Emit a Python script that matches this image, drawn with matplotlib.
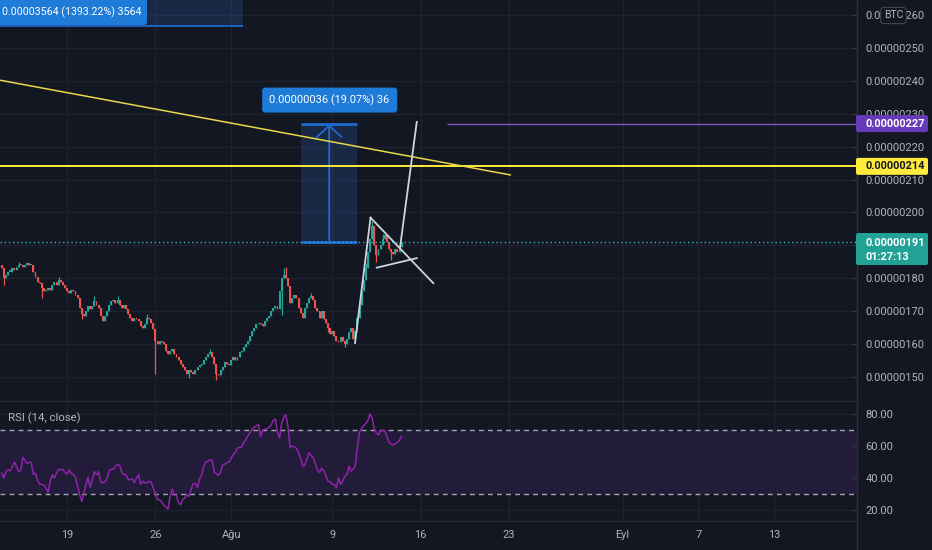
import numpy as np
import pandas as pd
import matplotlib
matplotlib.use("Agg")
import matplotlib.pyplot as plt
from matplotlib.patches import Rectangle, FancyBboxPatch
from matplotlib.lines import Line2D
from matplotlib.transforms import IdentityTransform

plt.rcParams['font.family'] = ['Roboto', 'DejaVu Sans']

W, H = 932, 550
BG = '#131722'
GRID = '#1F2330'
TXT = '#B2B5BE'
UP = '#26A69A'
DOWN = '#EF5350'

# 4h candles, prices in 1e-8 BTC (0.00000191 -> 191)
ref = pd.Timestamp('2021-07-01')
start = pd.Timestamp('2021-07-13 20:00')
first_open = 184.0
closes = [183, 180, 181, 182, 182, 183, 182.5, 183.5, 184, 184, 183.5, 184,
          184.5, 184, 184, 182, 180.5, 179, 178.5, 177, 176, 176.5, 177, 176.5,
          178, 179, 178, 179.5, 179, 178, 177, 176, 175.5, 176.5, 176, 175,
          174, 171, 169, 168.5, 170, 171.5, 170.5, 171.5, 173, 172, 171, 168.5,
          167, 168.5, 170, 172, 173, 173.5, 172.5, 173.5, 172, 171, 172, 170.5,
          169, 168, 167, 168, 167.5, 167, 165.5, 165, 166, 168, 167.5, 166.5,
          164.5, 161, 160, 161, 160.5, 160, 158, 157, 158, 158.5, 157, 156,
          155, 154, 153, 152, 151, 152, 151.5, 151, 152, 153, 153.5, 154,
          155, 156, 157, 157.5, 156, 154, 151, 150.5, 152, 153, 154.5, 154,
          153.5, 155, 156, 155, 156, 157.5, 158, 159, 160, 161, 162.5, 164,
          165, 166, 166.5, 166, 165.5, 167, 168, 168.5, 170, 171, 171.5, 170.5,
          176, 180, 181, 180, 177.5, 172.5, 174, 175, 174, 171, 169.5, 168,
          171, 172.5, 174, 174.5, 173.5, 171, 170, 168, 170, 167.5, 166.5, 165,
          163, 164, 162.5, 161, 160.5, 162, 161, 160, 161.5, 163.5, 165, 161.5,
          164, 168, 172, 176, 179.5, 183, 188, 192, 196, 190, 187, 189,
          190, 192, 193, 191, 189, 188, 187.5, 189, 188, 189.5, 191]
wick_high = {8: 185.0, 27: 180.5, 44: 174.5, 55: 174.5, 69: 169.0, 99: 158.5,
             134: 183.0, 135: 183.5, 147: 175.5, 173: 184.5, 176: 197.5, 181: 193.5}
wick_low = {1: 178.0, 19: 174.0, 38: 167.5, 73: 151.0, 89: 149.8, 102: 149.0,
            133: 168.8, 155: 163.5, 163: 159.0, 178: 185.0, 185: 185.5}

rsi = [43, 40, 44, 45, 44.5, 47, 50, 47, 44, 44.5, 53, 51,
       49, 50, 49.5, 42.2, 43, 38.5, 36, 36, 35.5, 33.5, 31, 38,
       42, 40, 43, 45.5, 45, 45.5, 43.5, 42.5, 45, 43, 42.2, 40.5,
       35, 29.5, 25.4, 30.5, 36, 40.5, 34, 39, 44, 42, 44, 37.5,
       37, 37.5, 39.5, 44.5, 45.4, 45.4, 47.5, 48.3, 48, 43.5, 42.2, 42,
       39, 39, 39.5, 37, 40, 42, 36, 38, 37, 37, 38, 37.5,
       33.5, 30.5, 26.4, 26.4, 25, 23, 21.8, 20.5, 29, 33, 29.5, 29,
       24.5, 23.3, 26.5, 27.5, 29.6, 28.5, 33, 36.5, 36.5, 34, 39.5, 42,
       47.5, 50, 50.5, 51.5, 51, 43.5, 42.5, 41.5, 43.5, 48.5, 48.5, 49.6,
       50, 52.5, 54.5, 56, 58.8, 59, 59.3, 62.2, 64, 66.5, 68.3, 70.6,
       72, 72.5, 73.6, 66, 70, 70.6, 70.6, 71.8, 73, 76, 76.9, 68.5,
       65, 74, 78, 79.5, 72, 59, 60.1, 59.5, 58.5, 56, 52.5, 47.5,
       48, 52, 55.8, 54, 52.7, 49, 45.2, 43.5, 46, 44.5, 41.8, 38,
       37.6, 36, 36, 34, 40, 36, 38, 41.2, 42, 47.4, 44.3, 45.4,
       48, 59.5, 68.5, 71.2, 72.5, 74, 76, 80, 77.5, 70.5, 68.2, 67,
       69.5, 69.6, 69.6, 66, 62.3, 61.1, 60.6, 61.5, 62.2, 63.8, 66]

tick_dates = ['2021-07-19', '2021-07-26', '2021-08-01', '2021-08-09', '2021-08-16',
              '2021-08-23', '2021-09-01', '2021-09-07', '2021-09-13']
tick_labels = ['19', '26', 'Ağu', '9', '16', '23', 'Eyl', '7', '13']
price_ticks = list(range(150, 261, 10))
hidden_ticks = [190]  # covered by the last-price badge
rsi_ticks = [20, 40, 60, 80]

# drawings (x in days since 1 July, y in 1e-8 BTC)
last_price = 191
level_price = 214
target_price = 227
target_from = 48.1
trend_x = [10.0, 53.1]
trend_y = [242.1, 211.4]
measure_x = [36.53, 41.0]
measure_y = [191, 227]
measure_text = '0.00000036 (19.07%) 36'
old_measure_x = [10.0, 31.94]
old_measure_y = [256.7, 270]
old_measure_text = '0.00003564 (1393.22%) 3564'
pennant = [([40.81, 42.04], [160.3, 198.4]),
           ([42.04, 47.01], [198.4, 178.5]),
           ([42.53, 45.70], [183.2, 186.1]),
           ([44.38, 45.70], [189.5, 227.5])]

closes = np.array(closes, dtype=float)
times = pd.date_range(start, periods=len(closes), freq='4h')
x = ((times - ref) / pd.Timedelta('1D')).to_numpy()
opens = np.r_[first_open, closes[:-1]]
highs = np.maximum(opens, closes)
lows = np.minimum(opens, closes)
for k, v in wick_high.items():
    highs[k] = v
for k, v in wick_low.items():
    lows[k] = v
cols = np.where(closes >= opens, UP, DOWN)
body = np.maximum(np.abs(closes - opens), 0.45)
tick_x = [(pd.Timestamp(d) - ref) / pd.Timedelta('1D') for d in tick_dates]

fig = plt.figure(figsize=(W / 100, H / 100), dpi=100, facecolor=BG)
ax = fig.add_axes([0, 1 - 401 / H, 857 / W, 401 / H], facecolor=BG)
ax2 = fig.add_axes([0, 1 - 521 / H, 857 / W, 119 / H], facecolor=BG)

for a in (ax, ax2):
    a.set_xlim(12.69, 80.57)
    a.set_xticks(tick_x)
    a.set_axisbelow(True)
    a.grid(True, color=GRID, lw=1)
    for s in ('top', 'left'):
        a.spines[s].set_visible(False)
    for s in ('right', 'bottom'):
        a.spines[s].set_color('#2A2E39')
    a.yaxis.tick_right()
    a.tick_params(axis='y', direction='in', length=3, color='#3A3E4A', pad=6,
                  labelsize=7.9, labelcolor=TXT)
ax.tick_params(axis='x', length=0, labelbottom=False)
ax2.tick_params(axis='x', length=0, pad=6.5, labelsize=7.9, labelcolor=TXT)
ax2.set_xticklabels(tick_labels)

# price pane
ax.set_ylim(142.68, 264.56)
ax.set_yticks(price_ticks)
ax.set_yticklabels(['' if v in hidden_ticks else f'{v / 1e8:.8f}' for v in price_ticks])

ax.add_patch(Rectangle((old_measure_x[0], old_measure_y[0]), old_measure_x[1] - old_measure_x[0],
                       old_measure_y[1] - old_measure_y[0], fc='#2A5298', alpha=0.3, lw=0, zorder=1))
ax.hlines(old_measure_y[0], *old_measure_x, color='#1E6BD6', lw=1.2, zorder=2)
ax.add_patch(Rectangle((measure_x[0], measure_y[0]), measure_x[1] - measure_x[0],
                       measure_y[1] - measure_y[0], fc='#2A5298', alpha=0.3, lw=0, zorder=1))
ax.hlines(measure_y, *measure_x, color='#1E6BD6', lw=2, zorder=2)
mid = (measure_x[0] + measure_x[1]) / 2
ax.annotate('', xy=(mid, measure_y[1] - 0.3), xytext=(mid, measure_y[0]),
            arrowprops=dict(arrowstyle='->,head_width=0.5,head_length=0.45', color='#1E6BD6',
                            lw=1.3, mutation_scale=18, shrinkA=0, shrinkB=0), zorder=2)

ax.bar(x, body, bottom=np.minimum(opens, closes), width=0.15, color=cols, lw=0, zorder=3)
ax.vlines(x, lows, highs, colors=cols, lw=0.9, zorder=3)

ax.axhline(last_price, color='#3BB3C3', lw=1, ls=(0, (1, 2)), zorder=4)
ax.axhline(level_price, color='#FFEB3B', lw=1.4, zorder=4)
ax.hlines(target_price, target_from, 80.57, color='#7E57C2', lw=1, zorder=4)
ax.plot(trend_x, trend_y, color='#E8D84A', lw=1.1, zorder=4)
for px_, py_ in pennant:
    ax.plot(px_, py_, color='#D1D4DC', lw=1.3, zorder=5)

# rsi pane
ax2.set_ylim(13.1, 87.5)
ax2.set_yticks(rsi_ticks)
ax2.set_yticklabels([f'{v:.2f}' for v in rsi_ticks])
ax2.axhspan(30, 70, color='#221B39', lw=0, zorder=0.2)
for lvl in (30, 70):
    ax2.axhline(lvl, color='#A3A6AF', lw=1, ls=(0, (3.5, 3)), zorder=1)
ax2.plot(x[:len(rsi)], rsi, color='#8E24AA', lw=1.1, zorder=3)

fig.add_artist(Line2D([857 / W, 857 / W], [0, 1], color='#2A2E39', lw=1, transform=fig.transFigure))


def box(x0, y0, x1, y1, color, r=3):
    p = FancyBboxPatch((x0, H - y1), x1 - x0, y1 - y0, boxstyle=f'round,pad=0,rounding_size={r}',
                       transform=IdentityTransform(), fc=color, ec='none', zorder=20)
    fig.add_artist(p)


def put(xp, yp, s, color='white', ha='center', size=7.9, weight='normal'):
    fig.text(xp / W, 1 - yp / H, s, ha=ha, va='center', color=color, fontsize=size,
             fontweight=weight, zorder=21)


def ypix(a, v):
    return H - a.transData.transform((20, v))[1]


# measure labels
xm = ax.transData.transform((mid, 0))[0]
ytop = ypix(ax, measure_y[1])
box(xm - 67, ytop - 36, xm + 68, ytop - 11, '#1E7BD8')
put(xm, ytop - 23.5, measure_text)
box(-10, -6, 147, 25, '#1E7BD8')
put(72, 12.5, old_measure_text, size=7.7)

# price badges
for v, fc, tc in ((target_price, '#673AB7', 'white'), (level_price, '#FFEB3B', '#131722')):
    yc = ypix(ax, v)
    box(856, yc - 8.5, 928, yc + 8.5, fc, r=2)
    put(865, yc, f'{v / 1e8:.8f}', color=tc, ha='left', weight='bold')
yc = ypix(ax, last_price)
box(856, yc - 9, 928, yc + 23, '#22A195', r=2)
put(865, yc + 0.5, f'{last_price / 1e8:.8f}', ha='left', weight='bold')
put(865, yc + 15, '01:27:13', ha='left', weight='bold')

fig.text(893.5 / W, 1 - 15.5 / H, 'BTC', ha='center', va='center', fontsize=7.5, color=TXT, zorder=22,
         bbox=dict(boxstyle='round,pad=0.3,rounding_size=0.35', fc=BG, ec='#434651', lw=0.8))
fig.text(8 / W, 1 - 418 / H, 'RSI (14, close)', va='center', fontsize=8.2, color=TXT)

fig.savefig('out.png', dpi=100, facecolor=BG)
